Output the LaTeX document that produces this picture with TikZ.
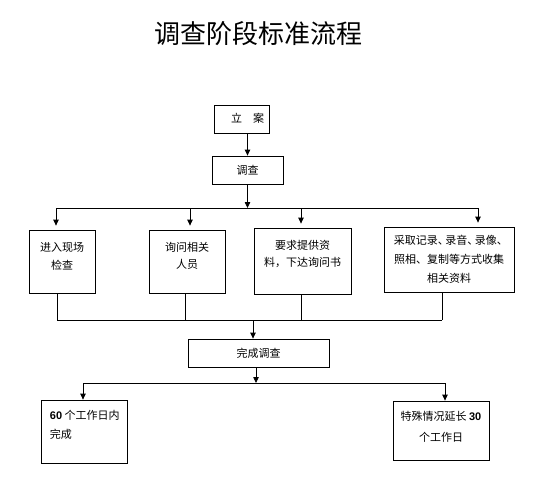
\documentclass[tikz,border=0pt]{standalone}
\usepackage{fontspec}
\usepackage{tikz}
\usetikzlibrary{arrows.meta}
\newfontfamily\cjk{Noto Sans CJK SC}
\newfontfamily\latinb{Liberation Sans}
\newcommand{\digits}[1]{{\latinb\bfseries #1}}
\newcommand{\dun}{\makebox[7.5pt][l]{、}}
\newcommand{\cell}[6][\centering]{\parbox[c][#3][t]{#2}{#1\fontsize{11pt}{#5}\selectfont\rule{0pt}{#4}#6\par}}

\begin{document}
\begin{tikzpicture}[x=1pt,y=-1pt,line width=0.8pt,
  box/.style={draw,inner sep=0pt,font=\cjk},
  arr/.style={-{Triangle[length=6pt,width=5.5pt]}},
  gap/.style={shorten >=4pt}]
  \useasboundingbox (0,0) rectangle (543,492);
  \node (title) [font=\cjk] at (258.5,34) {\fontsize{26pt}{26pt}\selectfont 调查阶段标准流程};
  % top of the flow
  \node (la) [box] at (241.5,119) {\cell[\raggedright\leftskip=17pt]{55pt}{28pt}{18pt}{18pt}{立　案}};
  \node (dc) [box] at (247.5,170) {\cell{71pt}{28pt}{18pt}{18pt}{调查}};
  % four ways of investigating
  \node (b1) [box] at (62,261.5) {\cell{66pt}{63pt}{21pt}{18pt}{进入现场\\检查}};
  \node (b2) [box] at (187,261.5) {\cell{76pt}{63pt}{21pt}{17pt}{询问相关\\人员}};
  \node (b3) [box] at (302.5,261) {\cell{97pt}{66pt}{21pt}{17pt}{要求提供资\\料，下达询问书}};
  \node (b4) [box] at (449,259.5) {\cell{130pt}{65pt}{17pt}{19pt}{采取记录\dun 录音\dun 录像\dun\\照相、复制等方式收集\\相关资料}};
  \node (wc) [box] at (258.5,353) {\cell{141pt}{28pt}{18pt}{18pt}{完成调查}};
  % time limits
  \node (r1) [box] at (84,431.5) {\cell[\raggedright\leftskip=9pt]{86pt}{63pt}{19pt}{19pt}{\digits{60} 个工作日内\\完成}};
  \node (r2) [box] at (441,430.5) {\cell{96pt}{59pt}{19pt}{21pt}{特殊情况延长 \digits{30}\\个工作日}};

  \coordinate (sp) at (247.5,208);
  \coordinate (s1) at (56,208);
  \coordinate (s2) at (190,208);
  \coordinate (s3) at (301,208);
  \coordinate (s4) at (478,208);
  \coordinate (m1) at (57,320);
  \coordinate (m2) at (185,320);
  \coordinate (m3) at (301,320);
  \coordinate (m4) at (442,320);
  \coordinate (mc) at (253,320);
  \coordinate (t0) at (256,383);
  \coordinate (t1) at (83,383);
  \coordinate (t2) at (445,383);

  \draw[arr] (la.south -| dc.north) -- (dc.north);
  \draw[arr] (dc.south) -- (sp);
  \draw (s1) -- (s4);
  \draw[arr,gap] (s1) -- (s1 |- b1.north);
  \draw[arr,gap] (s2) -- (s2 |- b2.north);
  \draw[arr,gap] (s3) -- (s3 |- b3.north);
  \draw[arr,gap] (s4) -- (s4 |- b4.north);
  \draw (b1.south -| m1) -- (m1);
  \draw (b2.south -| m2) -- (m2);
  \draw (b3.south -| m3) -- (m3);
  \draw (b4.south -| m4) -- (m4);
  \draw (m1) -- (m4);
  \draw[arr] (mc) -- (mc |- wc.north);
  \draw[arr] (wc.south -| t0) -- (t0);
  \draw (t1) -- (t2);
  \draw[arr] (t1) -- (t1 |- r1.north);
  \draw[arr] (t2) -- (t2 |- r2.north);
\end{tikzpicture}
\end{document}
